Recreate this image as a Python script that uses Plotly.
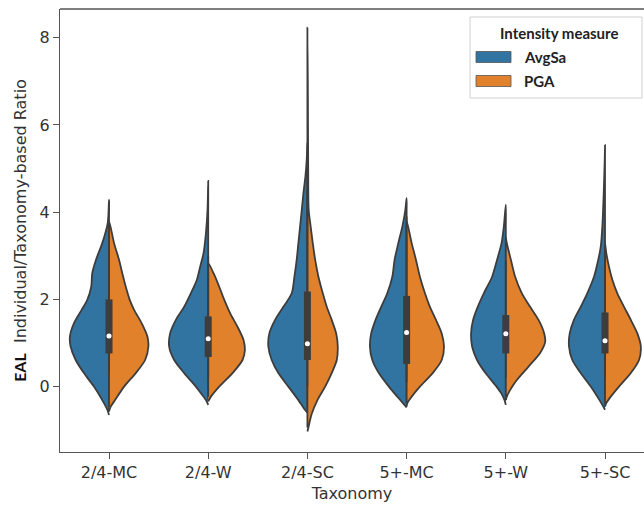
import plotly.graph_objects as go

CATEGORIES = ["2/4-MC", "2/4-W", "2/4-SC", "5+-MC", "5+-W", "5+-SC"]
SERIES = ["AvgSa", "PGA"]
Y_TICKS = [0, 2, 4, 6, 8]

# density profiles (value levels, half-width in category units)
MC24_AVGSA_Y = [-0.65, -0.53, -0.31, 0.0, 0.31, 0.61, 0.92, 1.15, 1.45, 1.76, 1.99, 2.29, 2.60, 2.91, 3.29, 3.75, 4.28]
MC24_AVGSA_W = [0, .017, .068, .152, .253, .336, .387, .394, .354, .276, .219, .179, .169, .131, .068, .013, 0]
MC24_PGA_Y = [-0.57, -0.46, -0.31, 0.0, 0.31, 0.61, 0.92, 1.15, 1.45, 1.76, 1.99, 2.29, 2.60, 2.91, 3.29, 3.80]
MC24_PGA_W = [0, .017, .061, .152, .27, .364, .397, .387, .33, .253, .209, .169, .134, .101, .051, 0]

W24_AVGSA_Y = [-0.42, -0.31, -0.15, 0.0, 0.31, 0.61, 0.92, 1.22, 1.53, 1.83, 2.14, 2.45, 2.75, 3.06, 3.52, 4.05, 4.72]
W24_AVGSA_W = [0, .023, .074, .124, .242, .343, .394, .384, .326, .242, .175, .114, .081, .047, .023, .007, 0]
W24_PGA_Y = [-0.34, -0.23, 0.0, 0.31, 0.61, 0.84, 1.07, 1.37, 1.68, 1.99, 2.29, 2.60, 2.83]
W24_PGA_W = [0, .027, .111, .245, .346, .37, .356, .296, .222, .162, .111, .054, 0]

SC24_AVGSA_Y = [-0.60, -0.50, -0.31, 0.0, 0.31, 0.61, 0.92, 1.22, 1.53, 1.83, 2.14, 2.52, 2.91, 3.29, 3.67, 4.05, 4.44, 4.82, 5.2, 5.6]
SC24_AVGSA_W = [0, .035, .091, .192, .293, .36, .394, .384, .326, .242, .158, .131, .108, .091, .074, .057, .04, .02, .007, 0]
SC24_PGA_Y = [-1.03, -0.94, -0.63, -0.31, 0.0, 0.31, 0.61, 0.92, 1.22, 1.53, 1.83, 2.14, 2.52, 2.91, 3.29, 3.67, 4.05, 5.0, 6.0, 7.0, 8.23]
SC24_PGA_W = [0, .01, .043, .101, .179, .245, .296, .306, .29, .245, .195, .155, .111, .078, .054, .033, .013, .008, .006, .004, 0]

MC5_AVGSA_Y = [-0.48, -0.38, -0.23, 0.0, 0.31, 0.61, 0.92, 1.22, 1.53, 1.83, 2.14, 2.52, 2.91, 3.29, 3.67, 4.05, 4.32]
MC5_AVGSA_W = [0, .037, .094, .179, .28, .346, .37, .357, .313, .256, .195, .144, .121, .084, .043, .013, 0]
MC5_PGA_Y = [-0.46, -0.38, -0.23, 0.0, 0.31, 0.61, 0.92, 1.22, 1.53, 1.83, 2.14, 2.52, 2.91, 3.29, 3.80]
MC5_PGA_W = [0, .007, .051, .134, .263, .354, .377, .354, .296, .235, .185, .134, .094, .051, 0]

W5_AVGSA_Y = [-0.42, -0.31, -0.15, 0.0, 0.31, 0.61, 0.92, 1.22, 1.53, 1.83, 2.14, 2.52, 2.91, 3.29, 3.67, 4.17]
W5_AVGSA_W = [0, .013, .047, .094, .205, .29, .34, .35, .33, .283, .222, .138, .088, .043, .02, 0]
W5_PGA_Y = [-0.31, -0.23, -0.08, 0.15, 0.46, 0.77, 1.03, 1.22, 1.53, 1.83, 2.14, 2.52, 2.91, 3.29, 3.42]
W5_PGA_W = [0, .01, .043, .111, .229, .346, .397, .387, .33, .245, .162, .094, .051, .01, 0]

SC5_AVGSA_Y = [-0.53, -0.42, -0.23, 0.0, 0.31, 0.61, 0.92, 1.22, 1.53, 1.83, 2.14, 2.52, 2.91, 3.21, 3.67, 4.44, 5.2, 5.54]
SC5_AVGSA_W = [0, .027, .078, .144, .245, .33, .363, .356, .313, .245, .179, .111, .068, .043, .027, .013, .003, 0]
SC5_PGA_Y = [-0.46, -0.38, -0.23, 0.0, 0.31, 0.61, 0.92, 1.22, 1.53, 1.83, 2.14, 2.45, 2.75, 3.06, 3.29]
SC5_PGA_W = [0, .013, .058, .141, .26, .343, .361, .326, .26, .192, .124, .074, .04, .013, 0]

# pooled inner box statistics per category
Q1 = [0.76, 0.68, 0.61, 0.52, 0.76, 0.76]
MEDIAN = [1.16, 1.10, 0.98, 1.24, 1.21, 1.05]
Q3 = [2.00, 1.61, 2.18, 2.08, 1.64, 1.70]
WHISK_LO = [0.30, 0.20, 0.00, 0.10, 0.20, 0.20]
WHISK_HI = [3.70, 3.00, 4.50, 3.90, 2.90, 3.10]

AVGSA_PROFILES = [(MC24_AVGSA_Y, MC24_AVGSA_W), (W24_AVGSA_Y, W24_AVGSA_W), (SC24_AVGSA_Y, SC24_AVGSA_W),
                  (MC5_AVGSA_Y, MC5_AVGSA_W), (W5_AVGSA_Y, W5_AVGSA_W), (SC5_AVGSA_Y, SC5_AVGSA_W)]
PGA_PROFILES = [(MC24_PGA_Y, MC24_PGA_W), (W24_PGA_Y, W24_PGA_W), (SC24_PGA_Y, SC24_PGA_W),
                (MC5_PGA_Y, MC5_PGA_W), (W5_PGA_Y, W5_PGA_W), (SC5_PGA_Y, SC5_PGA_W)]

COLORS = {"AvgSa": "#3274a1", "PGA": "#e1812c"}
EDGE = "#3d3d3d"

fig = go.Figure()


def half(pos, ys, ws, side, color, name):
    sgn = -1 if side == "left" else 1
    xs = [pos + sgn * w for w in ws] + [pos for _ in ys[-2:0:-1]]
    yy = list(ys) + list(ys[-2:0:-1])
    fig.add_trace(go.Scatter(
        x=xs, y=yy, mode="lines", fill="toself", fillcolor=color,
        line=dict(color=EDGE, width=1.8, shape="spline", smoothing=0.8),
        name=name, showlegend=False, hoverinfo="skip"))


for i, cat in enumerate(CATEGORIES):
    ya, wa = AVGSA_PROFILES[i]
    yp, wp = PGA_PROFILES[i]
    half(i, ya, wa, "left", COLORS["AvgSa"], "AvgSa")
    half(i, yp, wp, "right", COLORS["PGA"], "PGA")

for i, cat in enumerate(CATEGORIES):
    fig.add_trace(go.Scatter(x=[i, i], y=[WHISK_LO[i], WHISK_HI[i]], mode="lines",
                             line=dict(color=EDGE, width=1.8), showlegend=False, hoverinfo="skip"))
    fig.add_trace(go.Scatter(x=[i, i], y=[Q1[i], Q3[i]], mode="lines",
                             line=dict(color=EDGE, width=7), showlegend=False, hoverinfo="skip"))
    fig.add_trace(go.Scatter(x=[i], y=[MEDIAN[i]], mode="markers",
                             marker=dict(color="white", size=5, line=dict(width=0)),
                             showlegend=False, hoverinfo="skip"))

W, H = 644, 506
L, R, T, B = 60, 0, 9, 54
pw, ph = W - L - R, H - T - B


def px_x(p):
    return (p - L) / pw


def px_y(p):
    return (H - B - p) / ph


shapes = [
    dict(type="line", xref="paper", yref="paper", x0=0, x1=1, y0=1, y1=1,
         line=dict(color="#555", width=1.4)),
    dict(type="rect", xref="paper", yref="paper", x0=px_x(470), x1=px_x(642), y0=px_y(98), y1=px_y(17),
         line=dict(color="#d0d0d0", width=1), fillcolor="rgba(255,255,255,0.85)"),
]
annotations = [
    dict(text="<b>Intensity measure</b>", xref="paper", yref="paper", x=px_x(559), y=px_y(33),
         showarrow=False, font=dict(family="Lato", size=15, color="#222"), xanchor="center", yanchor="middle"),
]
for k, (s, yc) in enumerate(zip(SERIES, [57, 81])):
    shapes.append(dict(type="rect", xref="paper", yref="paper", x0=px_x(476), x1=px_x(511),
                       y0=px_y(yc + 5.5), y1=px_y(yc - 5.5), fillcolor=COLORS[s],
                       line=dict(color="#555", width=0.8)))
    annotations.append(dict(text="<b>%s</b>" % s, xref="paper", yref="paper", x=px_x(522), y=px_y(yc),
                            showarrow=False, font=dict(family="Lato", size=15, color="#222"),
                            xanchor="left", yanchor="middle"))

TITLE_FONT = dict(family="DejaVu Sans", size=16, color="#333")

fig.update_layout(
    width=W, height=H, margin=dict(l=L, r=R, t=T, b=B),
    plot_bgcolor="white", paper_bgcolor="white",
    font=dict(family="DejaVu Sans", size=16, color="#333"),
    showlegend=False, shapes=shapes, annotations=annotations,
    xaxis=dict(range=[-0.494, 5.393], tickvals=list(range(len(CATEGORIES))), ticktext=CATEGORIES,
               showline=True, linecolor="#555", linewidth=1.4, ticks="outside", ticklen=6,
               tickcolor="#555", tickwidth=1.4, showgrid=False, zeroline=False,
               title=dict(text="Taxonomy", standoff=6, font=TITLE_FONT)),
    yaxis=dict(range=[-1.5, 8.66], tickvals=Y_TICKS, showline=True, linecolor="#555", linewidth=1.4,
               ticks="outside", ticklen=6, tickcolor="#555", tickwidth=1.4, showgrid=False, zeroline=False,
               title=dict(text='<span style="font-family:Lato;font-weight:bold;font-size:16px;fill:#111">EAL</span>&nbsp;&nbsp;Individual/Taxonomy-based Ratio',
                          standoff=8, font=TITLE_FONT)),
)

fig.write_html("out.html")
